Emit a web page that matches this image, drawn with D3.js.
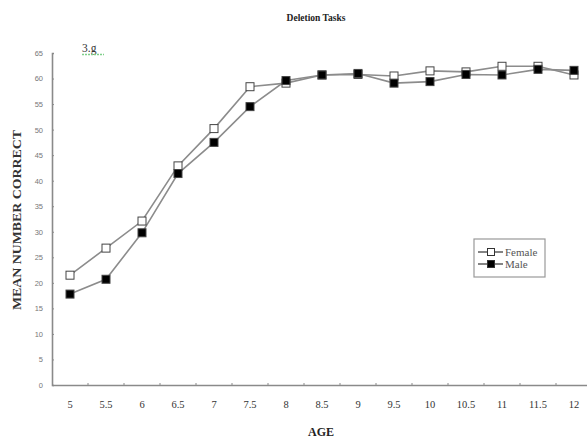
<!DOCTYPE html>
<html>
<head>
<meta charset="utf-8">
<script src="https://cdn.jsdelivr.net/npm/d3@7/dist/d3.min.js"></script>
<style>
  html, body { margin: 0; padding: 0; background: #fff; }
  svg { display: block; }
</style>
</head>
<body>
<svg id="chart" width="587" height="441"></svg>
<script>
// Ages on the category axis
const ages = ["5", "5.5", "6", "6.5", "7", "7.5", "8", "8.5", "9", "9.5", "10", "10.5", "11", "11.5", "12"];
// Mean number correct per age
const female = [21.5, 26.8, 32.1, 42.9, 50.2, 58.4, 59.1, 60.7, 60.8, 60.5, 61.5, 61.3, 62.4, 62.4, 60.7];
const male   = [17.8, 20.7, 29.8, 41.4, 47.5, 54.5, 59.6, 60.7, 61.0, 59.1, 59.4, 60.8, 60.7, 61.8, 61.6];
const yTicks = d3.range(0, 66, 5);

(function () {
const svg = d3.select("#chart");
const plotLeft = 52, plotRight = 592, plotTop = 53, plotBottom = 385;

const x = d3.scaleBand().domain(ages).range([plotLeft, plotRight]);
const y = d3.scaleLinear().domain([0, 65]).range([plotBottom, plotTop]);
const cx = a => x(a) + x.bandwidth() / 2;

const axisColor = "#8a8a8a";
const serif = "Liberation Serif, 'Times New Roman', serif";

// Title
svg.append("text").attr("x", 316).attr("y", 21).attr("text-anchor", "middle")
  .attr("font-family", serif).attr("font-weight", "bold")
  .attr("font-size", 9.5).attr("fill", "#222").text("Deletion Tasks");

// Figure tag
const tag = svg.append("g");
tag.append("text").attr("x", 82).attr("y", 52)
  .attr("font-family", serif).attr("font-size", 11.5)
  .attr("fill", "#333").text("3.g");
tag.append("line").attr("x1", 82).attr("x2", 104).attr("y1", 54.5).attr("y2", 54.5)
  .attr("stroke", "#7fcf8a").attr("stroke-width", 1.6).attr("stroke-dasharray", "2,1");

// Y axis
const yAxis = svg.append("g").attr("transform", `translate(${plotLeft},0)`)
  .call(d3.axisLeft(y).tickValues(yTicks).tickSize(-2).tickPadding(9).tickFormat(d3.format("d")));
yAxis.select(".domain").attr("stroke", axisColor).attr("stroke-width", 1.6);
yAxis.selectAll(".tick line").attr("stroke", axisColor);
yAxis.selectAll(".tick text").attr("font-family", "Liberation Sans, Arial, sans-serif")
  .attr("font-size", 7.5).attr("fill", "#777");

// X axis with ticks between categories
const xAxis = svg.append("g").attr("transform", `translate(0,${plotBottom})`)
  .call(d3.axisBottom(x).tickSize(0).tickPadding(16));
xAxis.select(".domain").attr("stroke", axisColor).attr("stroke-width", 1.6);
xAxis.selectAll(".tick text").attr("font-family", serif)
  .attr("font-size", 10.5).attr("fill", "#333");
xAxis.selectAll(".between").data(ages.slice(1)).join("line")
  .attr("x1", a => x(a)).attr("x2", a => x(a)).attr("y1", 0).attr("y2", -2)
  .attr("stroke", axisColor);

// Axis titles
svg.append("text").attr("x", 321).attr("y", 436).attr("text-anchor", "middle")
  .attr("font-family", serif).attr("font-weight", "bold")
  .attr("font-size", 12).attr("fill", "#222").text("AGE");
svg.append("text").attr("transform", "translate(21,220) rotate(-90)").attr("text-anchor", "middle")
  .attr("font-family", serif).attr("font-weight", "bold")
  .attr("font-size", 12.5).attr("textLength", 180).attr("lengthAdjust", "spacingAndGlyphs")
  .attr("fill", "#333").text("MEAN NUMBER CORRECT");

// Series
const series = [
  { name: "Female", values: female, fill: "#fff" },
  { name: "Male", values: male, fill: "#000" }
];
const line = d3.line().x((d, i) => cx(ages[i])).y(d => y(d));
const ms = 8;

series.forEach(s => {
  svg.append("path").datum(s.values).attr("d", line)
    .attr("fill", "none").attr("stroke", "#8c8c8c").attr("stroke-width", 1.6);
});
series.forEach(s => {
  svg.append("g").selectAll("rect").data(s.values).join("rect")
    .attr("x", (d, i) => cx(ages[i]) - ms / 2).attr("y", d => y(d) - ms / 2)
    .attr("width", ms).attr("height", ms)
    .attr("fill", s.fill).attr("stroke", "#444").attr("stroke-width", 1);
});

// Legend
const lg = svg.append("g");
lg.append("rect").attr("x", 474).attr("y", 239).attr("width", 71).attr("height", 38)
  .attr("fill", "#fff").attr("stroke", "#999").attr("stroke-width", 1.2);
series.forEach((s, i) => {
  const ly = 252 + i * 12;
  lg.append("line").attr("x1", 478).attr("x2", 503).attr("y1", ly).attr("y2", ly)
    .attr("stroke", "#333").attr("stroke-width", 1.2);
  lg.append("rect").attr("x", 491 - 3.5).attr("y", ly - 3.5).attr("width", 7).attr("height", 7)
    .attr("fill", s.fill).attr("stroke", "#333");
  lg.append("text").attr("x", 505).attr("y", ly + 3.5).attr("font-family", serif)
    .attr("font-size", 11).attr("fill", "#555").text(s.name);
});
})();
</script>
</body>
</html>
